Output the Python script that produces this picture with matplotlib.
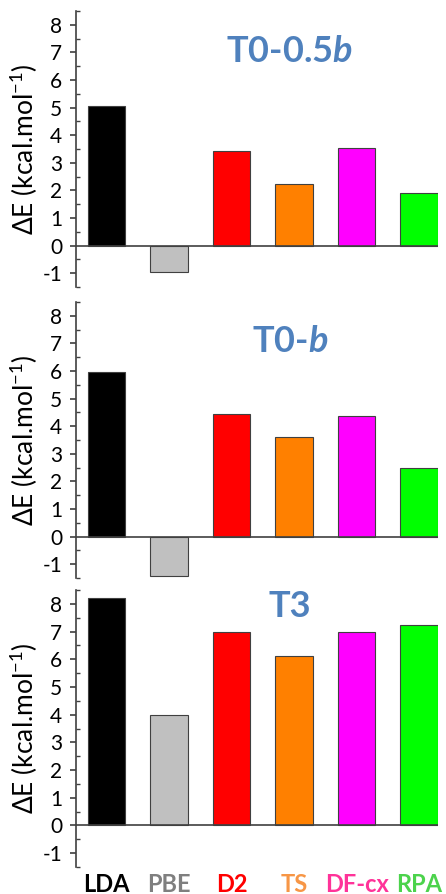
import numpy as np
import matplotlib
matplotlib.use('Agg')
import matplotlib.pyplot as plt
import matplotlib.ticker as ticker

plt.rcParams['font.family'] = ['Lato', 'DejaVu Sans']
plt.rcParams['axes.unicode_minus'] = False
plt.rcParams['mathtext.fontset'] = 'custom'
plt.rcParams['mathtext.rm'] = 'Lato'
plt.rcParams['mathtext.it'] = 'Lato:italic:bold'
plt.rcParams['mathtext.bf'] = 'Lato:bold'

methods = ['LDA', 'PBE', 'D2', 'TS', 'DF-cx', 'RPA']
bar_colors = ['#000000', '#C0C0C0', '#FF0000', '#FF8000', '#FF00FF', '#00FF00']
label_colors = ['#000000', '#7F7F7F', '#FF0000', '#F79646', '#FF3399', '#4CD34C']

# energy differences (kcal/mol) per structure
dE_T0_half_b = [5.06, -0.94, 3.44, 2.25, 3.55, 1.90]
dE_T0_b = [5.97, -1.41, 4.45, 3.62, 4.38, 2.49]
dE_T3 = [8.21, 3.97, 6.99, 6.12, 6.99, 7.24]

panels = [
    (dE_T0_half_b, r'T0-0.5$b$', 7.02),
    (dE_T0_b, r'T0-$b$', 7.07),
    (dE_T3, 'T3', 7.89),
]

W, H = 446, 894
fig = plt.figure(figsize=(W/100., H/100.), dpi=100)

# axes boxes in pixels (left, top, right, bottom)
boxes = [(76, 11, 438, 287), (76, 302, 438, 578), (76, 590, 438, 867)]

x = np.arange(len(methods))
for i, (vals, title, ty) in enumerate(panels):
    l, t, r, b = boxes[i]
    ax = fig.add_axes([l/W, 1-b/H, (r-l)/W, (b-t)/H])
    ax.bar(x, vals, width=0.6, color=bar_colors, edgecolor='#404040', linewidth=0.8, zorder=2)
    ax.axhline(0, color='#404040', lw=1.2, zorder=3)
    ax.set_xlim(-0.49, 5.30)
    ax.set_ylim(-1.5, 8.5)
    for s in ['top', 'right', 'bottom']:
        ax.spines[s].set_visible(False)
    ax.spines['left'].set_color('#404040')
    ax.spines['left'].set_linewidth(1.2)
    ax.yaxis.set_major_locator(ticker.MultipleLocator(1))
    ax.yaxis.set_minor_locator(ticker.MultipleLocator(0.5))
    ax.tick_params(axis='y', which='major', direction='out', length=4, width=1.2,
                   color='#404040', labelsize=15, pad=6)
    ax.tick_params(axis='y', which='minor', direction='in', length=3, width=1.0, color='#404040')
    ax.set_ylabel(r'ΔE (kcal.mol$^{-1}$)', fontsize=19, labelpad=2)
    ax.text(2.93, ty, title, fontsize=26, fontweight='bold', color='#4F81BD',
            ha='center', va='center')
    ax.set_xticks(x)
    if i == 2:
        ax.set_xticklabels(methods, fontsize=17, fontweight='bold')
        for lab, c in zip(ax.get_xticklabels(), label_colors):
            lab.set_color(c)
        ax.tick_params(axis='x', length=0, pad=4)
    else:
        ax.set_xticklabels([])
        ax.tick_params(axis='x', length=0)

fig.savefig('out.png', dpi=100)
